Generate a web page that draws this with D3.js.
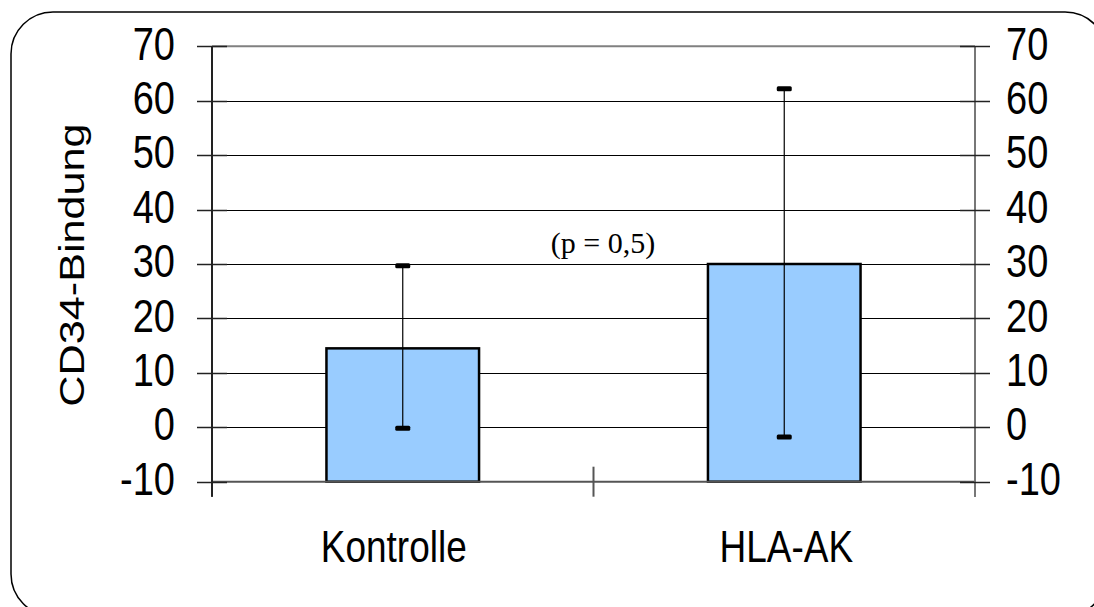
<!DOCTYPE html>
<html>
<head>
<meta charset="utf-8">
<script src="https://cdn.jsdelivr.net/npm/d3@7"></script>
<style>
  html, body { margin: 0; padding: 0; background: #fff; }
  svg { display: block; }
  text { fill: #000; }
  .sans { font-family: "Liberation Sans", Arial, sans-serif; }
  .serif { font-family: "Liberation Serif", "Times New Roman", serif; }
</style>
</head>
<body>
<svg id="chart" width="1094" height="607"></svg>
<script>
// Chart data
const categories = ["Kontrolle", "HLA-AK"];
const meanValues = [14.5, 30.0];
const errorHigh = [29.7, 62.2];
const errorLow = [-0.2, -1.8];
const yTicks = [-10, 0, 10, 20, 30, 40, 50, 60, 70];
const yTitle = "CD34-Bindung";
const annotation = "(p = 0,5)";

const svg = d3.select("#chart");

// Plot frame
const plotLeft = 212, plotRight = 975, plotTop = 46.3, plotBottom = 481.7;
const stretch = 1.2; // text is drawn taller than it is wide

const y = d3.scaleLinear().domain([-10, 70]).range([plotBottom, plotTop]);
const x = d3.scaleBand().domain(categories).range([plotLeft, plotRight])
  .paddingInner(0.6).paddingOuter(0.3);

// Outer rounded frame
svg.append("rect")
  .attr("x", 11).attr("y", 12).attr("width", 1096).attr("height", 604)
  .attr("rx", 42).attr("ry", 42)
  .attr("fill", "#fff").attr("stroke", "#000").attr("stroke-width", 1.5);

// Horizontal gridlines
svg.append("g").selectAll("line")
  .data(yTicks.filter(t => t > -10 && t < 70))
  .join("line")
  .attr("x1", plotLeft).attr("x2", plotRight)
  .attr("y1", d => Math.round(y(d)) + 0.5).attr("y2", d => Math.round(y(d)) + 0.5)
  .attr("stroke", "#000").attr("stroke-width", 1);

// Top border of plot
svg.append("line")
  .attr("x1", plotLeft).attr("x2", plotRight).attr("y1", y(70)).attr("y2", y(70))
  .attr("stroke", "#808080").attr("stroke-width", 2);

// Bars
svg.append("g").selectAll("rect")
  .data(categories)
  .join("rect")
  .attr("x", d => x(d))
  .attr("width", x.bandwidth())
  .attr("y", (d, i) => y(meanValues[i]))
  .attr("height", (d, i) => y(-10) - y(meanValues[i]))
  .attr("fill", "#99CCFF")
  .attr("stroke", "#000").attr("stroke-width", 2.5);

// X axis line (at -10)
svg.append("line")
  .attr("x1", plotLeft).attr("x2", plotRight).attr("y1", y(-10)).attr("y2", y(-10))
  .attr("stroke", "#555").attr("stroke-width", 2);

// X axis tick marks at band boundaries
const xTickPos = [plotLeft, (plotLeft + plotRight) / 2, plotRight];
svg.append("g").selectAll("line")
  .data(xTickPos)
  .join("line")
  .attr("x1", d => d).attr("x2", d => d)
  .attr("y1", (d, i) => i === 1 ? y(-10) - 15 : y(-10))
  .attr("y2", y(-10) + 15)
  .attr("stroke", "#555").attr("stroke-width", 2);

// Left axis
svg.append("line")
  .attr("x1", plotLeft).attr("x2", plotLeft).attr("y1", plotTop).attr("y2", plotBottom + 15)
  .attr("stroke", "#222").attr("stroke-width", 2);
// Right axis
svg.append("line")
  .attr("x1", plotRight).attr("x2", plotRight).attr("y1", plotTop).attr("y2", plotBottom + 15)
  .attr("stroke", "#777").attr("stroke-width", 2);

// Y tick marks on both sides (crossing the axis)
const tickG = svg.append("g");
tickG.selectAll("line.l").data(yTicks).join("line").attr("class", "l")
  .attr("x1", plotLeft - 15).attr("x2", plotLeft + 15)
  .attr("y1", d => Math.round(y(d)) + 0.5).attr("y2", d => Math.round(y(d)) + 0.5)
  .attr("stroke", "#222").attr("stroke-width", 1.5);
tickG.selectAll("line.r").data(yTicks).join("line").attr("class", "r")
  .attr("x1", plotRight - 15).attr("x2", plotRight + 15)
  .attr("y1", d => Math.round(y(d)) + 0.5).attr("y2", d => Math.round(y(d)) + 0.5)
  .attr("stroke", "#222").attr("stroke-width", 1.5);

// Tick labels, left and right
function stretchedText(g, tx, ty, str, anchor, size) {
  return g.append("text")
    .attr("class", "sans")
    .attr("transform", `translate(${tx},${ty}) scale(1,${stretch})`)
    .attr("text-anchor", anchor)
    .attr("font-size", size)
    .text(str);
}
const labG = svg.append("g");
yTicks.forEach(t => {
  stretchedText(labG, 175, y(t) + 11 * stretch, String(t), "end", 38);
  stretchedText(labG, 1006, y(t) + 11 * stretch, String(t), "start", 38);
});

// Category labels
categories.forEach((c, i) => {
  const cx = x(c) + x.bandwidth() / 2 + (i === 0 ? -9 : 2);
  stretchedText(svg, cx, 562, c, "middle", 37);
});

// Y axis title, rotated
svg.append("text")
  .attr("class", "sans")
  .attr("transform", `translate(84,265) rotate(-90) scale(${stretch},1)`)
  .attr("text-anchor", "middle")
  .attr("font-size", 36)
  .text(yTitle);

// Error bars
const errG = svg.append("g");
categories.forEach((c, i) => {
  const cx = x(c) + x.bandwidth() / 2;
  errG.append("line")
    .attr("x1", cx).attr("x2", cx)
    .attr("y1", y(errorHigh[i])).attr("y2", y(errorLow[i]))
    .attr("stroke", "#000").attr("stroke-width", 1.2);
  [errorHigh[i], errorLow[i]].forEach(v => {
    errG.append("rect")
      .attr("x", cx - 7.5).attr("y", y(v) - 2.5)
      .attr("width", 15).attr("height", 5)
      .attr("rx", 1.5)
      .attr("fill", "#000");
  });
});

// Significance annotation
svg.append("text")
  .attr("class", "serif")
  .attr("x", 603).attr("y", 253)
  .attr("text-anchor", "middle")
  .attr("font-size", 30)
  .text(annotation);
</script>
</body>
</html>
